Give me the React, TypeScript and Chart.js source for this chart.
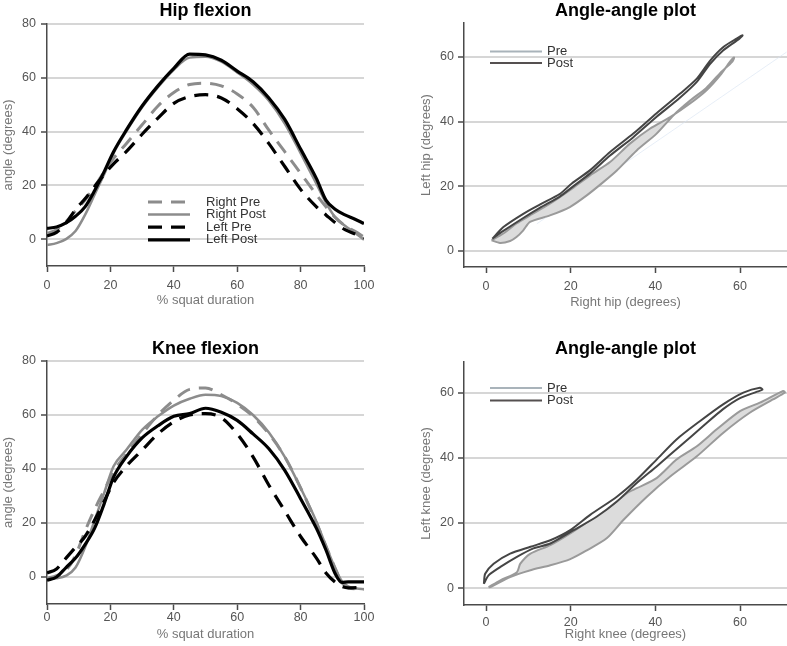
import React, { useEffect, useRef } from "react";
import { Chart, registerables } from "chart.js";

Chart.register(...registerables);

const FONT = "'Liberation Sans', Arial, Helvetica, sans-serif";

// ---------- Hip flexion (% squat duration vs angle) ----------
const hipPct = [0, 3, 6, 9, 12, 15, 18, 21, 25, 30, 35, 40, 45, 50, 55, 60, 65, 70, 75, 80, 85, 88, 91, 94, 97, 100];
const hipRightPre = [2, 3.5, 6.5, 10.5, 14.5, 19.5, 25, 30, 35.5, 42.5, 49.5, 54.5, 57.5, 58, 57, 54, 49, 40.5, 32.5, 24.5, 16.5, 12, 8, 5, 3, 0.8];
const hipRightPost = [-2.2, -1.5, 0, 3, 9, 16.5, 24, 32, 40, 49, 56.5, 63, 67.5, 67.8, 66, 62, 57.5, 51.5, 43, 32, 20.5, 13.5, 8, 5, 2.5, -0.2];
const hipLeftPre = [1.2, 2.5, 6, 11, 15, 19.5, 24, 28, 32.5, 39, 45, 50.5, 53, 53.7, 52.5, 48.5, 43, 35.5, 27, 18.5, 12, 9, 6, 3.5, 2, 0.5];
const hipLeftPost = [4, 4.5, 6, 8.5, 12, 18, 25, 32.5, 40.5, 49.5, 57, 63.5, 68.8, 68.5, 66.5, 62.5, 58.5, 52.5, 44.5, 33.5, 22.5, 14.5, 11, 9, 7.5, 5.8];

// ---------- Knee flexion ----------
const kneePct = [0, 3, 6, 9, 12, 15, 18, 21, 25, 30, 35, 40, 45, 50, 55, 60, 65, 70, 75, 80, 85, 88, 91, 93, 95, 100];
const kneeRightPre = [-0.5, 0.5, 2.5, 8, 17, 25, 32, 39, 45.5, 53, 60, 65.5, 69.5, 70, 67.5, 64, 59.5, 53, 44.5, 33, 20, 11.5, 3, -2, -4, -4.5];
const kneeRightPost = [-0.8, -0.5, 0.5, 3.5, 11, 21, 31, 41, 47, 54.5, 59.5, 63.5, 66, 67.5, 67, 64.5, 60, 53.5, 44.5, 33, 20.5, 11.5, 3, -1.5, -3.5, -4.5];
const kneeLeftPre = [1.5, 3, 7, 11, 15, 21, 28, 35, 41, 47, 53, 57.5, 60, 60.5, 59, 53, 44.5, 34, 24.5, 15, 7, 1.5, -2, -3.5, -4, -3.8];
const kneeLeftPost = [-1.2, 0, 3.5, 7, 12, 18, 27, 37, 44.5, 51.5, 56, 59.5, 60.5, 62.5, 61, 58, 53, 47.5, 39.5, 29, 18, 10, 1, -2, -1.8, -1.8];

// ---------- Angle-angle hip (Right hip x, Left hip y) ----------
const aaHipPreRight = [1.3, 4.1, 7.2, 10.4, 15.1, 19.8, 24.6, 29.3, 34.0, 38.7, 43.5, 48.2, 52.1, 55.3, 57.6, 58.6, 58.2, 55.3, 52.1, 48.2, 44.3, 40.3, 35.6, 30.9, 27.7, 23.8, 19.8, 15.1, 10.4, 8.8, 7.2, 5.7, 3.3, 1.3];
const aaHipPreLeft = [3.3, 5.4, 8.5, 11.0, 14.6, 18.8, 23.4, 27.5, 33.2, 37.8, 41.4, 45.6, 49.7, 54.3, 58.5, 59.8, 58.6, 55.0, 50.5, 46.5, 42.0, 36.3, 31.1, 24.9, 21.3, 17.2, 13.6, 11.0, 9.0, 6.4, 4.3, 3.1, 2.5, 3.3];
const aaHipPostRight = [1.5, 4.1, 8.8, 12.8, 17.5, 20.2, 24.6, 29.3, 34.8, 40.3, 45.8, 49.8, 52.9, 56.0, 59.2, 60.6, 59.8, 56.0, 52.9, 49.8, 45.8, 40.3, 34.8, 29.3, 24.6, 20.2, 17.5, 12.8, 8.8, 4.1, 1.5];
const aaHipPostLeft = [3.8, 7.4, 11.5, 14.4, 17.7, 20.8, 25.0, 30.6, 36.3, 42.6, 48.6, 53.3, 58.8, 63.0, 65.7, 66.7, 65.6, 62.0, 57.8, 52.3, 47.4, 41.5, 35.2, 29.5, 24.0, 19.6, 16.9, 13.4, 10.2, 6.2, 3.8];
const aaHipTrendRight = [12, 71];
const aaHipTrendLeft = [8.4, 61.5];

// ---------- Angle-angle knee (Right knee x, Left knee y) ----------
const aaKneePreRight = [0.6, 3.4, 7.3, 8.1, 10.5, 15.2, 19.9, 24.6, 29.3, 33.3, 35.6, 40.3, 45.0, 49.8, 54.5, 60.0, 64.7, 70.2, 70.6, 67.8, 62.3, 56.0, 49.8, 43.5, 38.0, 32.5, 28.5, 23.8, 19.9, 15.2, 10.5, 5.7, 1.0, 0.6];
const aaKneePreLeft = [0.3, 2.4, 4.9, 7.5, 10.6, 13.2, 16.8, 20.9, 25.0, 29.2, 30.7, 33.8, 39.5, 43.6, 48.8, 54.4, 57.0, 60.6, 60.1, 58.0, 53.9, 47.7, 40.5, 34.3, 28.1, 21.0, 15.3, 11.6, 8.9, 7.0, 5.5, 3.4, 0.3, 0.3];
const aaKneePostRight = [-0.5, -0.2, 1.8, 5.7, 10.5, 15.2, 19.9, 24.6, 30.9, 35.6, 40.3, 45.0, 50.5, 56.0, 60.8, 64.7, 65.3, 63.9, 60.0, 56.0, 51.3, 45.8, 40.3, 35.6, 30.9, 26.2, 20.7, 15.2, 11.2, 7.3, 3.4, 0.6, -0.5];
const aaKneePostLeft = [1.3, 4.4, 7.5, 10.6, 12.7, 14.7, 17.8, 22.5, 28.1, 33.3, 39.5, 45.7, 51.3, 56.5, 60.1, 61.6, 61.0, 60.3, 58.4, 55.0, 49.8, 43.6, 37.4, 32.3, 26.6, 22.0, 17.8, 13.7, 12.2, 9.6, 6.5, 3.9, 1.3];

// ---------- tick labels ----------
const pctTicks = [0, 20, 40, 60, 80, 100];
const angleTicks = [0, 20, 40, 60, 80];
const aaTicks = [0, 20, 40, 60];

const AXIS = "#4a4a4a";
const GRID = "#d6d6d6";
const TICK = "#555555";
const ATITLE = "#777777";
const DASH = [14, 9];

const pts = (xs: number[], ys: number[]) => xs.map((x, i) => ({ x, y: ys[i] }));
const fixedTicks = (values: number[]) => (axis: any) => {
  axis.ticks = values.map((v) => ({ value: v }));
};

const panelTitlePlugin = {
  id: "panelTitle",
  afterDraw(chart: any, _args: any, opts: any) {
    if (!opts || !opts.text) return;
    const { ctx, chartArea } = chart;
    ctx.save();
    ctx.font = `bold ${opts.size}px ${FONT}`;
    ctx.fillStyle = "#000";
    ctx.textAlign = "center";
    ctx.textBaseline = "alphabetic";
    ctx.fillText(opts.text, (chartArea.left + chartArea.right) / 2 + (opts.dx || 0), opts.baseline);
    ctx.restore();
  },
};

const panelLegendPlugin = {
  id: "panelLegend",
  afterDatasetsDraw(chart: any, _args: any, opts: any) {
    if (!opts || !opts.show) return;
    const { ctx } = chart;
    const items = chart.data.datasets.filter((d: any) => d.label);
    items.forEach((d: any, i: number) => {
      const y = opts.y + i * opts.dy;
      ctx.save();
      ctx.strokeStyle = d.legendColor || d.borderColor;
      ctx.lineWidth = d.borderWidth;
      ctx.setLineDash(d.borderDash || []);
      ctx.beginPath();
      ctx.moveTo(opts.x0, y);
      ctx.lineTo(opts.x1, y);
      ctx.stroke();
      ctx.setLineDash([]);
      ctx.font = `${opts.size}px ${FONT}`;
      ctx.fillStyle = opts.color;
      ctx.textAlign = "left";
      ctx.textBaseline = "middle";
      ctx.fillText(d.label, opts.tx, y);
      ctx.restore();
    });
  },
};

function buildScales(o: any) {
  return {
    x: {
      type: "linear",
      min: o.xMin,
      max: o.xMax,
      afterBuildTicks: fixedTicks(o.xTicks),
      afterFit: (s: any) => {
        s.height = o.xH;
      },
      grid: { display: true, drawOnChartArea: false, drawTicks: true, tickLength: 6, tickColor: AXIS, tickWidth: 1.5 },
      border: { display: true, color: AXIS, width: 1.5 },
      ticks: { color: TICK, font: { family: FONT, size: 12.5 }, padding: o.xTickPad, maxRotation: 0, autoSkip: false },
      title: {
        display: true,
        text: o.xTitle,
        color: ATITLE,
        font: { family: FONT, size: 13 },
        padding: { top: 0, bottom: o.xTitlePad },
      },
    },
    y: {
      type: "linear",
      min: o.yMin,
      max: o.yMax,
      afterBuildTicks: fixedTicks(o.yTicks),
      afterFit: (s: any) => {
        s.width = o.yW;
      },
      grid: {
        display: true,
        drawOnChartArea: true,
        color: GRID,
        lineWidth: 2,
        drawTicks: true,
        tickLength: 6,
        tickColor: AXIS,
        tickWidth: 1.5,
      },
      border: { display: true, color: AXIS, width: 1.5 },
      ticks: { color: TICK, font: { family: FONT, size: 12.5 }, padding: o.yTickPad },
      title: {
        display: true,
        text: o.yTitle,
        color: ATITLE,
        font: { family: FONT, size: 13 },
        padding: { top: o.yTitlePad, bottom: 0 },
      },
    },
  };
}

function timeDatasets(pct: number[], rPre: number[], rPost: number[], lPre: number[], lPost: number[]) {
  const base = [
    { label: "Right Pre", data: pts(pct, rPre), borderColor: "#8c8c8c", borderWidth: 3, borderDash: DASH, order: 3 },
    { label: "Right Post", data: pts(pct, rPost), borderColor: "#8c8c8c", borderWidth: 2.5, order: 2 },
    { label: "Left Pre", data: pts(pct, lPre), borderColor: "#000000", borderWidth: 3.2, borderDash: DASH, order: 1 },
    { label: "Left Post", data: pts(pct, lPost), borderColor: "#000000", borderWidth: 3.2, order: 0 },
  ];
  return base.map((d) => ({
    ...d,
    showLine: true,
    pointRadius: 0,
    fill: false,
    cubicInterpolationMode: "monotone",
    backgroundColor: d.borderColor,
  }));
}

function loopDatasets(preX: number[], preY: number[], postX: number[], postY: number[], trend?: { x: number[]; y: number[] }) {
  const ds: any[] = [
    {
      label: "Pre",
      data: pts(preX, preY),
      borderColor: "#9a9a9a",
      legendColor: "#a9b3ba",
      borderWidth: 2,
      backgroundColor: "#dcdcdc",
      fill: "shape",
      showLine: true,
      pointRadius: 0,
      tension: 0.25,
      order: 1,
    },
    {
      label: "Post",
      data: pts(postX, postY),
      borderColor: "#454545",
      legendColor: "#555050",
      borderWidth: 2,
      backgroundColor: "#ffffff",
      fill: "shape",
      showLine: true,
      pointRadius: 0,
      tension: 0.25,
      order: 0,
    },
  ];
  if (trend) {
    ds.push({
      data: pts(trend.x, trend.y),
      borderColor: "rgba(215,226,242,0.6)",
      borderWidth: 1,
      showLine: true,
      pointRadius: 0,
      fill: false,
      order: 5,
    });
  }
  return ds;
}

function makeConfig(p: any) {
  return {
    type: "scatter",
    data: { datasets: p.datasets },
    options: {
      responsive: false,
      animation: false,
      devicePixelRatio: 1,
      layout: { padding: { left: 0, top: p.top, right: p.right, bottom: 0 } },
      scales: buildScales(p.scale),
      plugins: {
        legend: { display: false },
        tooltip: { enabled: false },
        panelTitle: { text: p.title, baseline: p.titleBaseline, size: 18 },
        panelLegend: p.legend || { show: false },
      },
    },
    plugins: [panelTitlePlugin, panelLegendPlugin],
  };
}

const panels = [
  {
    key: "hip",
    left: 0,
    top: 0,
    width: 390,
    height: 320,
    config: () =>
      makeConfig({
        datasets: timeDatasets(hipPct, hipRightPre, hipRightPost, hipLeftPre, hipLeftPost),
        top: 24,
        right: 26,
        title: "Hip flexion",
        titleBaseline: 15.5,
        legend: { show: true, x0: 148, x1: 190, tx: 206, y: 202, dy: 12.6, size: 13, color: "#333" },
        scale: {
          xMin: 0, xMax: 100, yMin: -10, yMax: 80, xTicks: pctTicks, yTicks: angleTicks,
          xTitle: "% squat duration", yTitle: "angle (degrees)",
          xH: 54, yW: 47, xTickPad: 6, xTitlePad: 11.5, yTickPad: 5, yTitlePad: 1,
        },
      }),
  },
  {
    key: "hipaa",
    left: 390,
    top: 0,
    width: 397,
    height: 320,
    config: () =>
      makeConfig({
        datasets: loopDatasets(aaHipPreRight, aaHipPreLeft, aaHipPostRight, aaHipPostLeft, { x: aaHipTrendRight, y: aaHipTrendLeft }),
        top: 23,
        right: 0,
        title: "Angle-angle plot",
        titleBaseline: 16,
        legend: { show: true, x0: 100, x1: 152, tx: 157, y: 51.5, dy: 11.5, size: 13, color: "#333" },
        scale: {
          xMin: -5.2, xMax: 71.1, yMin: -4.95, yMax: 70.5, xTicks: aaTicks, yTicks: aaTicks,
          xTitle: "Right hip (degrees)", yTitle: "Left hip (degrees)",
          xH: 53, yW: 74, xTickPad: 6, xTitlePad: 10, yTickPad: 4, yTitlePad: 29,
        },
      }),
  },
  {
    key: "knee",
    left: 0,
    top: 320,
    width: 390,
    height: 326,
    config: () =>
      makeConfig({
        datasets: timeDatasets(kneePct, kneeRightPre, kneeRightPost, kneeLeftPre, kneeLeftPost),
        top: 41,
        right: 26,
        title: "Knee flexion",
        titleBaseline: 33.5,
        scale: {
          xMin: 0, xMax: 100, yMin: -10, yMax: 80, xTicks: pctTicks, yTicks: angleTicks,
          xTitle: "% squat duration", yTitle: "angle (degrees)",
          xH: 42, yW: 47, xTickPad: 0, xTitlePad: 3.8, yTickPad: 5, yTitlePad: 1,
        },
      }),
  },
  {
    key: "kneeaa",
    left: 390,
    top: 320,
    width: 397,
    height: 326,
    config: () =>
      makeConfig({
        datasets: loopDatasets(aaKneePreRight, aaKneePreLeft, aaKneePostRight, aaKneePostLeft),
        top: 42,
        right: 0,
        title: "Angle-angle plot",
        titleBaseline: 33.5,
        legend: { show: true, x0: 100, x1: 152, tx: 157, y: 68, dy: 12.5, size: 13, color: "#333" },
        scale: {
          xMin: -5.2, xMax: 71.1, yMin: -5.2, yMax: 69.5, xTicks: aaTicks, yTicks: aaTicks,
          xTitle: "Right knee (degrees)", yTitle: "Left knee (degrees)",
          xH: 41, yW: 74, xTickPad: 4.5, xTitlePad: 3.8, yTickPad: 4, yTitlePad: 29,
        },
      }),
  },
];

function Panel(props: { left: number; top: number; width: number; height: number; config: () => any }) {
  const ref = useRef<HTMLCanvasElement | null>(null);
  useEffect(() => {
    const chart = new Chart(ref.current as HTMLCanvasElement, props.config());
    return () => chart.destroy();
  }, []);
  return (
    <canvas
      ref={ref}
      width={props.width}
      height={props.height}
      style={{ position: "absolute", left: props.left, top: props.top, width: props.width, height: props.height }}
    />
  );
}

export default function App() {
  return (
    <div style={{ position: "absolute", left: 0, top: 0, width: 787, height: 646, background: "#ffffff", overflow: "hidden" }}>
      {panels.map((p) => (
        <Panel key={p.key} left={p.left} top={p.top} width={p.width} height={p.height} config={p.config} />
      ))}
    </div>
  );
}
